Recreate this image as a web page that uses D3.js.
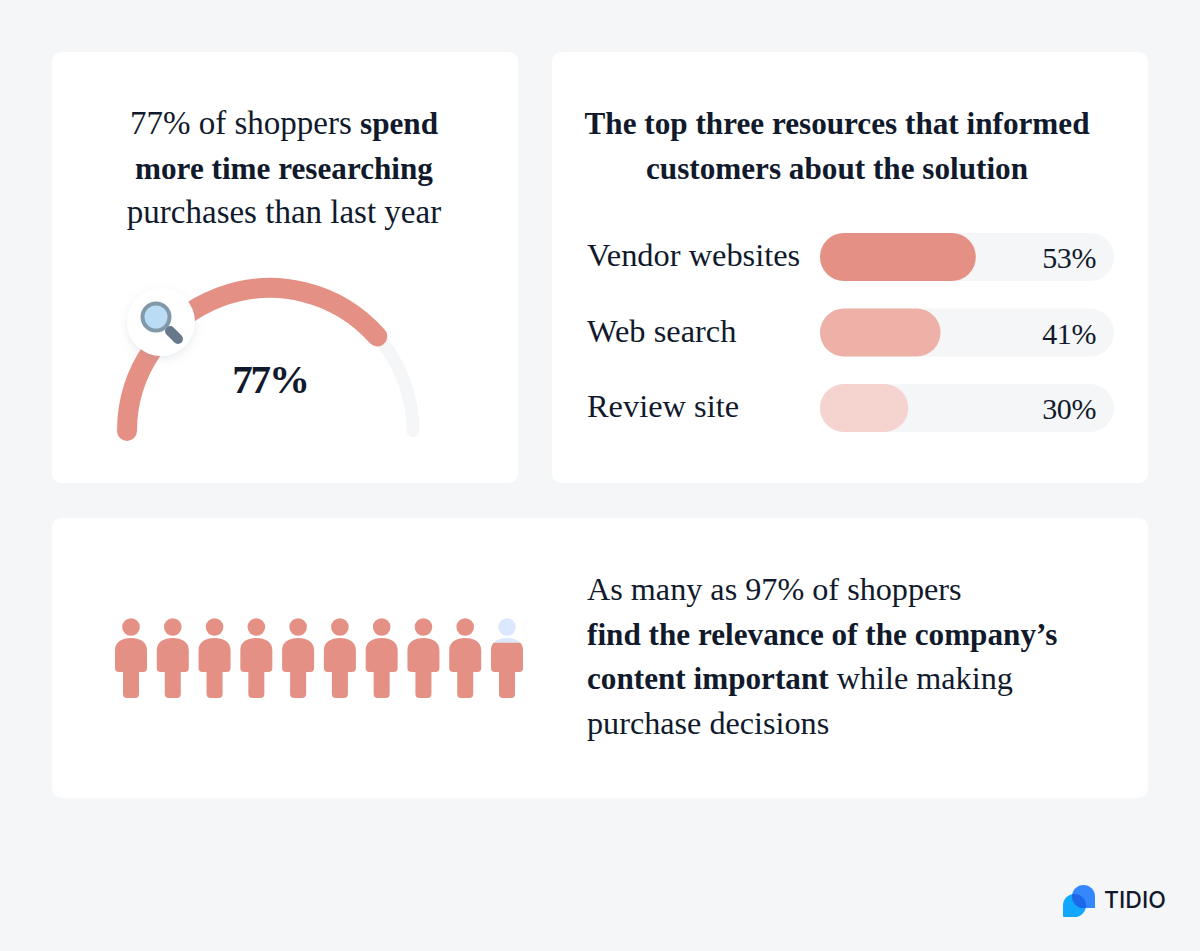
<!DOCTYPE html>
<html>
<head>
<meta charset="utf-8">
<script src="https://cdn.jsdelivr.net/npm/d3@7"></script>
<style>
  html, body { margin: 0; padding: 0; background: #f5f6f8; }
  svg { display: block; }
  text { font-family: "Liberation Serif", serif; fill: #111a2c; }
  .bold { font-weight: 700; font-size: 31.2px; }
</style>
</head>
<body>
<svg id="chart" width="1200" height="951"></svg>
<script>
'use strict';

var gaugeValue = [77];
var gaugeLabel = ['77%'];

var resources = ['Vendor websites', 'Web search', 'Review site'];
var resourceValues = [53, 41, 30];
var resourceLabels = ['53%', '41%', '30%'];
var resourceColors = ['#e59084', '#edb1a8', '#f5d3ce'];

// share of each figure that is filled in, bottom up
var peopleFill = [1, 1, 1, 1, 1, 1, 1, 1, 1, 0.69];

var gaugeLines = [
  [['77% of shoppers ', false], ['spend', true]],
  [['more time researching', true]],
  [['purchases than last year', false]]
];
var titleLines = [
  [['The top three resources that informed', true]],
  [['customers about the solution', true]]
];
var contentLines = [
  [['As many as 97% of shoppers', false]],
  [['find the relevance of the company\u2019s', true]],
  [['content important', true], [' while making', false]],
  [['purchase decisions', false]]
];

var svg = d3.select('#chart');
var defs = svg.append('defs');

var RED = '#e59084';
var TRACK = '#f5f6f8';

// CARDS
svg.selectAll('rect.card')
  .data([[52, 52, 466, 431], [552, 52, 596, 431], [52, 518, 1096, 280]])
  .enter().append('rect')
  .attr('class', 'card')
  .attr('x', function(d) { return d[0]; })
  .attr('y', function(d) { return d[1]; })
  .attr('width', function(d) { return d[2]; })
  .attr('height', function(d) { return d[3]; })
  .attr('rx', 9)
  .attr('fill', '#fff');

function drawLines(lines, x, firstY, lineHeight, anchor, size) {
  lines.forEach(function(line, i) {
    var text = svg.append('text')
      .attr('x', x)
      .attr('y', firstY + i * lineHeight)
      .attr('text-anchor', anchor)
      .style('font-size', size + 'px');
    line.forEach(function(part) {
      text.append('tspan')
        .attr('class', part[1] ? 'bold' : null)
        .style('white-space', 'pre')
        .text(part[0]);
    });
  });
}

drawLines(gaugeLines, 284, 134, 44.5, 'middle', 33);
drawLines(titleLines, 837, 134, 44.5, 'middle', 32.6);
drawLines(contentLines, 587, 600, 44.5, 'start', 32.2);

// GAUGE
var angle = d3.scaleLinear().domain([0, 100]).range([Math.PI, 2 * Math.PI]);
var gauge = svg.append('g').attr('transform', 'translate(270,431)');
var gaugeRadius = 143;

function gaugeArc(value) {
  var p = d3.path();
  p.arc(0, 0, gaugeRadius, angle(0), angle(value));
  return p.toString();
}

gauge.append('path')
  .attr('d', gaugeArc(100))
  .attr('fill', 'none')
  .attr('stroke', TRACK)
  .attr('stroke-width', 13)
  .attr('stroke-linecap', 'round');

gauge.append('path')
  .attr('d', gaugeArc(gaugeValue[0]))
  .attr('fill', 'none')
  .attr('stroke', RED)
  .attr('stroke-width', 20)
  .attr('stroke-linecap', 'round');

gauge.append('text')
  .attr('class', 'bold')
  .attr('x', 0)
  .attr('y', -38)
  .attr('text-anchor', 'middle')
  .style('font-size', '41px')
  .style('letter-spacing', '-2.2px')
  .text(gaugeLabel[0]);

// magnifier badge
var shadow = defs.append('filter')
  .attr('id', 'soft')
  .attr('x', '-30%').attr('y', '-30%')
  .attr('width', '160%').attr('height', '160%');
shadow.append('feDropShadow')
  .attr('dx', 0).attr('dy', 3)
  .attr('stdDeviation', 5)
  .attr('flood-color', '#8a97ad')
  .attr('flood-opacity', 0.2);

var badge = svg.append('g').attr('transform', 'translate(161,322)');
badge.append('circle').attr('r', 34).attr('fill', '#fff').attr('filter', 'url(#soft)');
badge.append('line')
  .attr('x1', 9).attr('y1', 9)
  .attr('x2', 17).attr('y2', 17)
  .attr('stroke', '#66788a')
  .attr('stroke-width', 10)
  .attr('stroke-linecap', 'round');
badge.append('circle')
  .attr('cx', -5).attr('cy', -5).attr('r', 13.5)
  .attr('fill', '#bbdcf5')
  .attr('stroke', '#8299aa')
  .attr('stroke-width', 4);

// BARS
var x = d3.scaleLinear().domain([0, 100]).range([820, 1114]);
var y = d3.scalePoint().domain(resources).range([233, 384]);
var barHeight = 48;

var bars = svg.selectAll('g.bar')
  .data(resources)
  .enter().append('g')
  .attr('class', 'bar');

bars.append('rect')
  .attr('x', x(0))
  .attr('y', function(d) { return y(d); })
  .attr('width', x(100) - x(0))
  .attr('height', barHeight)
  .attr('rx', barHeight / 2)
  .attr('fill', TRACK);

bars.append('rect')
  .attr('x', x(0))
  .attr('y', function(d) { return y(d); })
  .attr('width', function(d, i) { return x(resourceValues[i]) - x(0); })
  .attr('height', barHeight)
  .attr('rx', barHeight / 2)
  .attr('fill', function(d, i) { return resourceColors[i]; });

bars.append('text')
  .attr('x', 587)
  .attr('y', function(d) { return y(d) + 33; })
  .style('font-size', '32.4px')
  .text(function(d) { return d; });

bars.append('text')
  .attr('x', 1096)
  .attr('y', function(d) { return y(d) + 35; })
  .attr('text-anchor', 'end')
  .style('font-size', '30px')
  .style('letter-spacing', '-0.4px')
  .text(function(d, i) { return resourceLabels[i]; });

// PEOPLE
var px = d3.scalePoint()
  .domain(d3.range(peopleFill.length))
  .range([131, 507]);
var personTop = 618;
var personHeight = 80;
var personPath = 'M-16,32 C-16,24 -9,20 0,20 C9,20 16,24 16,32 L16,50 Q16,54 12,54 L8,54 L8,76 Q8,80 4,80 ' +
  'L-4,80 Q-8,80 -8,76 L-8,54 L-12,54 Q-16,54 -16,50 Z';

var people = svg.selectAll('g.person')
  .data(peopleFill)
  .enter().append('g')
  .attr('class', 'person')
  .attr('transform', function(d, i) { return 'translate(' + px(i) + ',' + personTop + ')'; });

function drawPerson(sel, color) {
  sel.append('circle').attr('cy', 9).attr('r', 8.8).attr('fill', color);
  sel.append('path').attr('d', personPath).attr('fill', color);
}

people.each(function(d, i) {
  var g = d3.select(this);
  if (d < 1) {
    drawPerson(g.append('g'), '#dbe8fd');
  }
  var id = 'fill-' + i;
  defs.append('clipPath').attr('id', id)
    .append('rect')
    .attr('x', -20)
    .attr('y', personHeight * (1 - d))
    .attr('width', 40)
    .attr('height', personHeight * d);
  drawPerson(g.append('g').attr('clip-path', 'url(#' + id + ')'), RED);
});

// LOGO
var logo = svg.append('g').attr('transform', 'translate(1063,885)');
var backBubble = 'M9,11.5 A11.5,11.5 0 0 1 32,11.5 L32,23 L20.5,23 A11.5,11.5 0 0 1 9,11.5 Z';
defs.append('clipPath').attr('id', 'logo-back')
  .append('path').attr('d', backBubble);
logo.append('path')
  .attr('d', 'M0,31 L0,20.5 A11.5,11.5 0 1 1 11.5,32 L1,32 Q0,32 0,31 Z')
  .attr('fill', '#12a8ff');
logo.append('path')
  .attr('d', backBubble)
  .attr('fill', '#3487ff');
logo.append('circle')
  .attr('cx', 11.5).attr('cy', 20.5).attr('r', 11.5)
  .attr('clip-path', 'url(#logo-back)')
  .attr('fill', '#1c68e8');

svg.append('text')
  .attr('x', 1104)
  .attr('y', 908)
  .style('font-family', 'Inter, sans-serif')
  .style('font-weight', 500)
  .style('font-size', '23px')
  .text('TIDIO');
</script>
</body>
</html>
